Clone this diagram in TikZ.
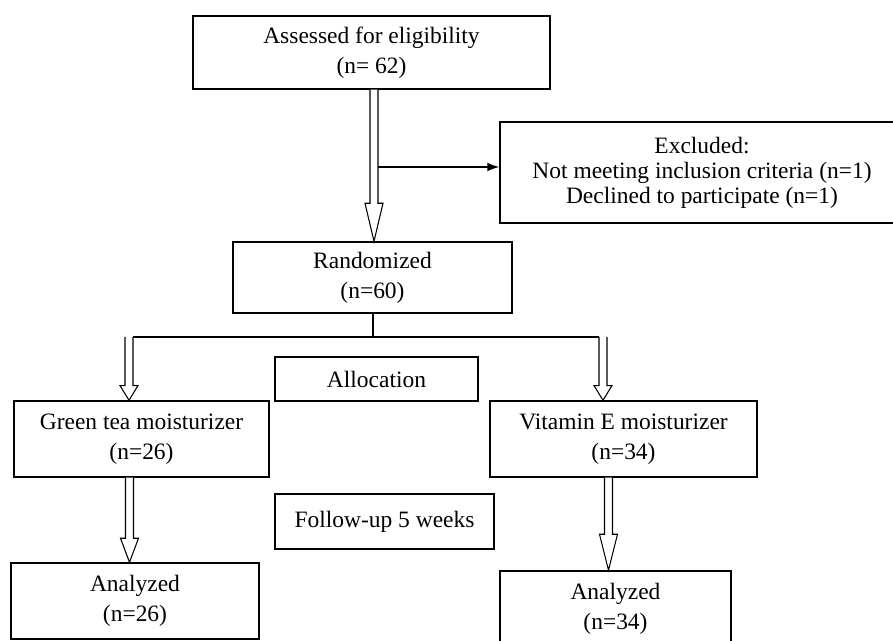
\documentclass[tikz,border=0pt]{standalone}
\usepackage{fontspec}
\setmainfont{Liberation Serif}
\usetikzlibrary{arrows.meta,calc}
\tikzset{
  box/.style={draw, line width=1.1pt, fill=white, align=center, inner sep=0pt,
    font=\fontsize{17.6}{22.5}\selectfont},
  conn/.style={draw, line width=0.8pt, fill=white},
  thin/.style={draw, line width=0.9pt}
}
\newcommand{\hollowarr}[3]{%
  \path[conn] let \p1=#1, \p2=#2 in
    (\x1-3pt,\y1) -- (\x1-3pt,\y2+#3) -- (\x1-6.75pt,\y2+#3) -- (\x1,\y2)
    -- (\x1+6.75pt,\y2+#3) -- (\x1+3pt,\y2+#3) -- (\x1+3pt,\y1);
}
\begin{document}
\begin{tikzpicture}[x=0.75pt,y=-0.75pt]
\fill[white] (0,0) rectangle (893,641);
\useasboundingbox (0,0) rectangle (893,641);
\clip (0,0) rectangle (893,641);

\node[box, minimum width=357*0.75pt, minimum height=73*0.75pt] (assess) at (371.5,52.5)
  {Assessed for eligibility\\(n= 62)};
\node[box, minimum width=404*0.75pt, minimum height=101*0.75pt,
  font=\fontsize{17.6}{18.8}\selectfont] (excl) at (702,172.5)
  {Excluded:\\Not meeting inclusion criteria (n=1)\\Declined to participate (n=1)};
\node[box, minimum width=279*0.75pt, minimum height=71*0.75pt] (rand) at (372.5,277.5)
  {Randomized\\(n=60)};
\node[box, minimum width=203*0.75pt, minimum height=44*0.75pt] (alloc) at (376.5,379)
  {Allocation};
\node[box, minimum width=255*0.75pt, minimum height=76*0.75pt] (green) at (141.5,439)
  {Green tea moisturizer\\(n=26)};
\node[box, minimum width=267*0.75pt, minimum height=76*0.75pt] (vit) at (623.5,439)
  {Vitamin E moisturizer\\(n=34)};
\node[box, minimum width=219*0.75pt, minimum height=55*0.75pt] (follow) at (384.5,521.5)
  {Follow-up 5 weeks};
\node[box, minimum width=248*0.75pt, minimum height=76*0.75pt] (anl) at (135,601)
  {Analyzed\\(n=26)};
\node[box, minimum width=231*0.75pt, minimum height=76*0.75pt] (anr) at (615.5,609)
  {Analyzed\\(n=34)};

% coordinates for connector positions
\coordinate (xA) at (374,0);
\coordinate (side) at (378,167);
\coordinate (branch) at (373,337);
\coordinate (xL) at (129,337);
\coordinate (xR) at (603,337);
\coordinate (xL2) at (129.5,0);
\coordinate (xR2) at (608.5,0);

% main hollow arrow
\hollowarr{(assess.south -| xA)}{(rand.north -| xA)}{28.5pt}
% side arrow to excluded
\draw[thin, -{Latex[length=9pt,width=6.5pt]}] (side) -- (side -| excl.west);
% branch
\draw[thin] (rand.south -| branch) -- (branch);
\draw[thin] ($(xL)+(4,0)$) -- ($(xR)+(-4,0)$);
\hollowarr{(xL)}{(green.north -| xL)}{11pt}
\hollowarr{(xR)}{(vit.north -| xR)}{11pt}
\hollowarr{(green.south -| xL2)}{(anl.north -| xL2)}{18pt}
\hollowarr{(vit.south -| xR2)}{(anr.north -| xR2)}{27pt}
\end{tikzpicture}
\end{document}
